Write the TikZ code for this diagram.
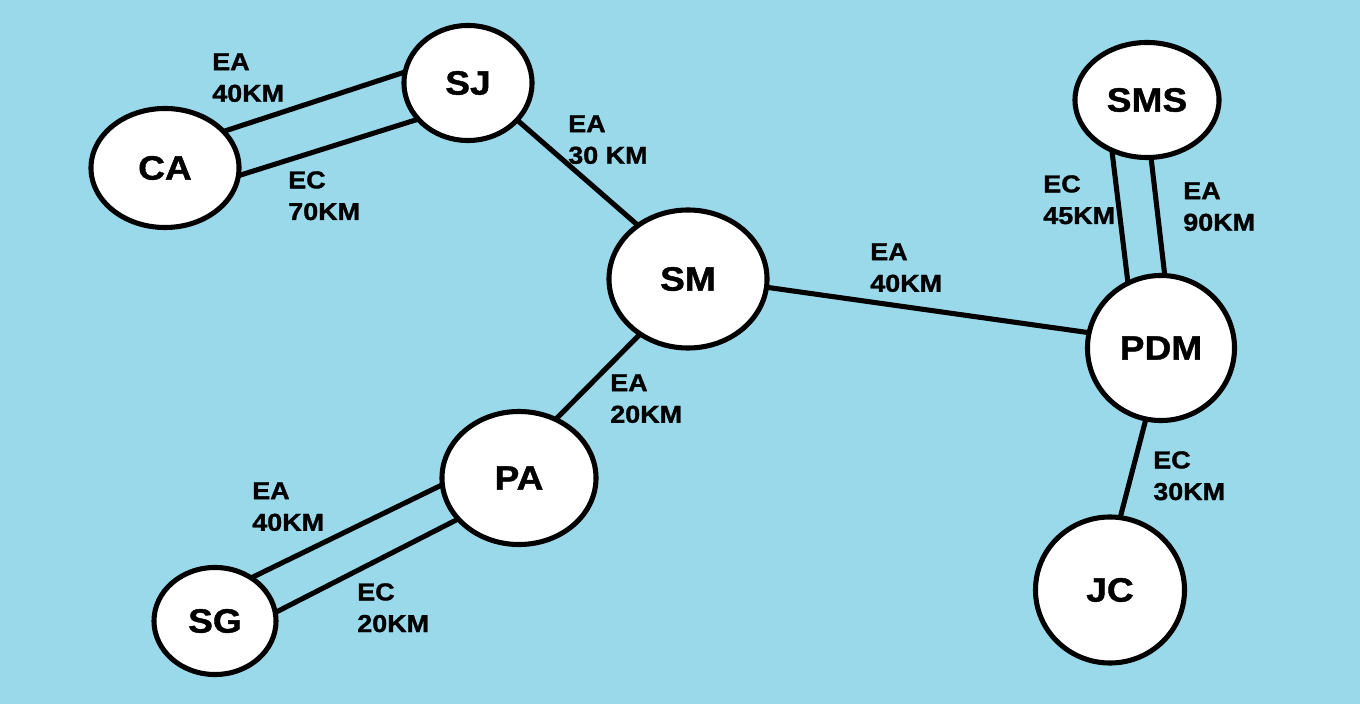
\documentclass[tikz,border=0pt]{standalone}
\usepackage{fontspec}
\setmainfont[FakeStretch=1.1, BoldFeatures={FakeBold=1.2}]{Liberation Sans}
\usetikzlibrary{shapes.geometric}
\definecolor{azulclaro}{RGB}{153,217,234}

\begin{document}
\begin{tikzpicture}[x=0.025cm, y=0.025cm,
    cidade/.style={ellipse, draw, fill=white, line width=3.6pt, inner sep=0pt, outer sep=0pt,
        font=\bfseries\fontsize{24}{28}\selectfont},
    via/.style={line width=3.6pt},
    dist/.style={anchor=north west, inner sep=0pt, align=left,
        font=\bfseries\fontsize{17.4}{22.5}\selectfont}]
    \fill[azulclaro] (0,0) rectangle (1360,704); % Fundo
    \useasboundingbox (0,0) rectangle (1360,704);

    % Cidades
    \node[cidade, minimum width=3.2cm, minimum height=2.875cm] (SJ) at (468,621) {SJ};
    \node[cidade, minimum width=3.7cm, minimum height=2.975cm] (CA) at (165,536) {CA};
    \node[cidade, minimum width=3.95cm, minimum height=3.45cm] (SM) at (688,425) {SM};
    \node[cidade, minimum width=3.6cm, minimum height=2.875cm] (SMS) at (1147,604) {SMS};
    \node[cidade, minimum width=3.675cm, minimum height=3.625cm] (PDM) at (1161,356) {PDM};
    \node[cidade, minimum width=3.85cm, minimum height=3.325cm] (PA) at (519,226) {PA};
    \node[cidade, minimum width=3.05cm, minimum height=2.675cm] (SG) at (215,83) {SG};
    \node[cidade, minimum width=3.725cm, minimum height=3.65cm] (JC) at (1110,114) {JC};

    % Estradas
    \draw[via] (CA.32) -- (SJ.170); % EA 40KM
    \draw[via] (CA.354) -- (SJ.216); % EC 70KM
    \draw[via] (SJ.323) -- (SM.133); % EA 30 KM
    \draw[via] (SM.354) -- (PDM.168); % EA 40KM
    \draw[via] (SM.229) -- (PA.58); % EA 20KM
    \draw[via] (PA.185) -- (SG.50); % EA 40KM
    \draw[via] (PA.214) -- (SG.8); % EC 20KM
    \draw[via] (SMS.235) -- (PDM.117); % EC 45KM
    \draw[via] (SMS.274) -- (PDM.87); % EA 90KM
    \draw[via] (PDM.258) -- (JC.82); % EC 30KM

    % Distancias
    \node[dist] (d1) at (212,651) {EA\\40KM};
    \node[dist] (d2) at (288,533) {EC\\70KM};
    \node[dist] (d3) at (568,589) {EA\\30 KM};
    \node[dist] (d4) at (870,461) {EA\\40KM};
    \node[dist] (d5) at (610,330) {EA\\20KM};
    \node[dist] (d6) at (1043,529) {EC\\45KM};
    \node[dist] (d7) at (1183,522) {EA\\90KM};
    \node[dist] (d8) at (252,222) {EA\\40KM};
    \node[dist] (d9) at (357,121) {EC\\20KM};
    \node[dist] (d10) at (1153,253) {EC\\30KM};
\end{tikzpicture}
\end{document}
